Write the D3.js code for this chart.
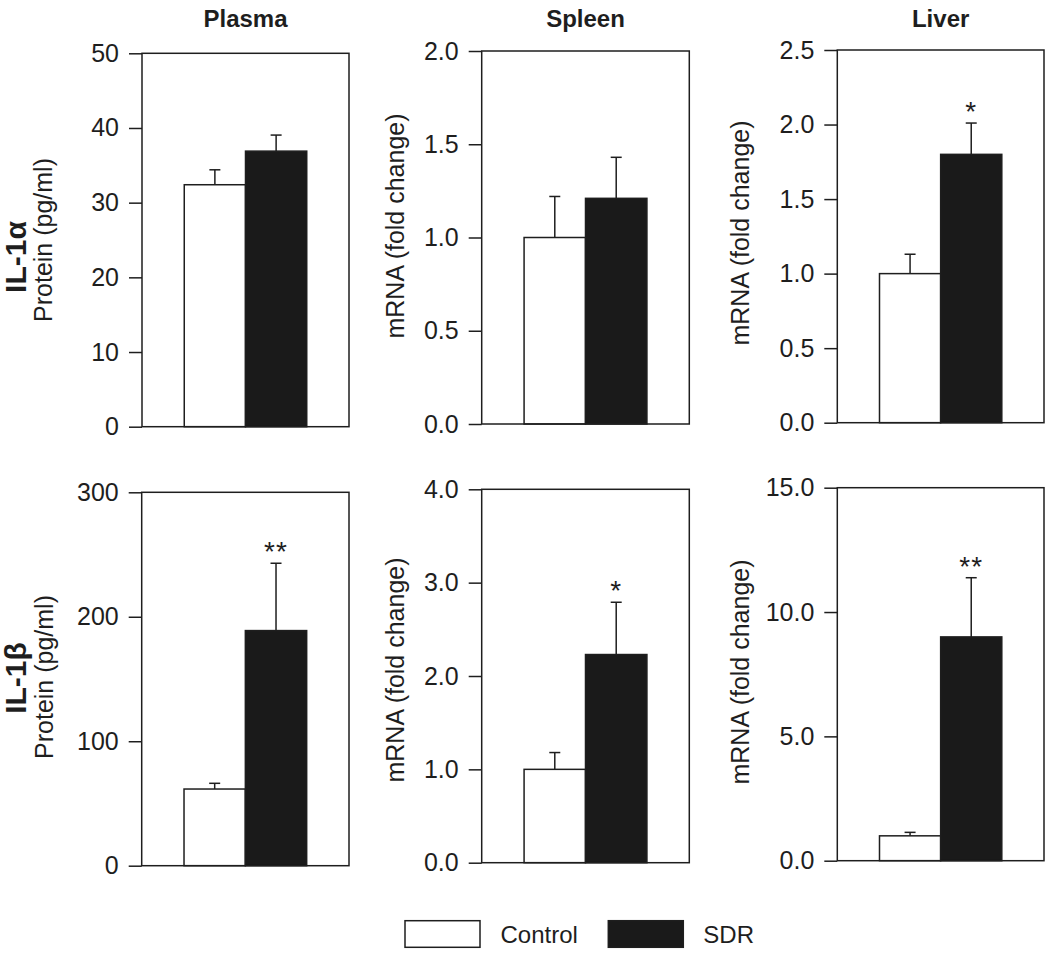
<!DOCTYPE html>
<html>
<head>
<meta charset="utf-8">
<script src="https://cdn.jsdelivr.net/npm/d3@7"></script>
<style>
  html, body { margin: 0; padding: 0; background: #fff; }
  svg { display: block; }
  text { font-family: "Liberation Sans", Arial, Helvetica, sans-serif; fill: #1e1e1e; }
</style>
</head>
<body>
<svg id="chart" width="1050" height="959"></svg>
<script>
// ---------------- DATA ----------------
const tissues = ["Plasma", "Spleen", "Liver"];
const cytokines = ["IL-1α", "IL-1β"];
const groups = ["Control", "SDR"];
// panels in reading order: IL-1α Plasma, Spleen, Liver; IL-1β Plasma, Spleen, Liver
const controlMeans = [32.4, 1.00, 1.00, 61.6, 1.00, 1.00];
const controlErr   = [2.0, 0.22, 0.13, 4.6, 0.18, 0.14];
const sdrMeans     = [36.9, 1.21, 1.80, 188.9, 2.23, 9.0];
const sdrErr       = [2.15, 0.22, 0.21, 54.1, 0.56, 2.38];
const significance = ["", "", "*", "**", "*", "**"];
const yMax = [50, 2.0, 2.5, 300, 4.0, 15.0];
const tickValues = [
  [0, 10, 20, 30, 40, 50],
  [0, 0.5, 1.0, 1.5, 2.0],
  [0, 0.5, 1.0, 1.5, 2.0, 2.5],
  [0, 100, 200, 300],
  [0, 1.0, 2.0, 3.0, 4.0],
  [0, 5.0, 10.0, 15.0]
];
const tickFormats = ["d", ".1f", ".1f", "d", ".1f", ".1f"];
const yLabels = ["Protein (pg/ml)", "mRNA (fold change)", "mRNA (fold change)",
                 "Protein (pg/ml)", "mRNA (fold change)", "mRNA (fold change)"];

// ---------------- LAYOUT ----------------
const layout = [
  { x: 142,   y: 53.3,  w: 207,   h: 373.4, lx: 52,  ly: 240 },
  { x: 481.7, y: 51,    w: 207.6, h: 373,   lx: 404, ly: 226 },
  { x: 837.3, y: 50,    w: 206.7, h: 372.7, lx: 749, ly: 233 },
  { x: 141.7, y: 492.3, w: 207.3, h: 373.4, lx: 53,  ly: 677 },
  { x: 481.7, y: 489.3, w: 207.6, h: 373.4, lx: 404, ly: 670 },
  { x: 837.3, y: 487.7, w: 206.7, h: 373,   lx: 749, ly: 672 }
];
const rowLabelPos = [ { x: 26, y: 257 }, { x: 26, y: 678 } ];
const ink = "#1e1e1e";
const barBlack = "#1a1a1a";
const tickFont = 25;
const labelFont = 25;

const svg = d3.select("#chart");

layout.forEach((L, i) => {
  const g = svg.append("g").attr("transform", `translate(${L.x},${L.y})`);
  const y = d3.scaleLinear().domain([0, yMax[i]]).range([L.h, 0]);
  const x = d3.scaleBand().domain(groups).range([0, L.w]).paddingInner(0).paddingOuter(0.69);

  // axis
  const ax = g.append("g").call(
    d3.axisLeft(y).tickValues(tickValues[i]).tickSize(13).tickPadding(10)
      .tickFormat(d3.format(tickFormats[i]))
  );
  ax.select(".domain").remove();
  ax.selectAll(".tick line").attr("stroke", ink).attr("stroke-width", 1.5);
  ax.selectAll(".tick text").attr("fill", ink)
    .style("font-size", tickFont + "px")
    .style("font-family", '"Liberation Sans", Arial, sans-serif');

  const means = [controlMeans[i], sdrMeans[i]];
  const errs = [controlErr[i], sdrErr[i]];
  const data = groups.map((k, j) => ({ k, m: means[j], e: errs[j] }));

  // error bars (upward only)
  const eb = g.selectAll(".eb").data(data).enter().append("g");
  eb.append("line")
    .attr("x1", d => x(d.k) + x.bandwidth() / 2)
    .attr("x2", d => x(d.k) + x.bandwidth() / 2)
    .attr("y1", d => y(d.m))
    .attr("y2", d => y(d.m + d.e))
    .attr("stroke", ink).attr("stroke-width", 1.5);
  eb.append("line")
    .attr("x1", d => x(d.k) + x.bandwidth() / 2 - 5.5)
    .attr("x2", d => x(d.k) + x.bandwidth() / 2 + 5.5)
    .attr("y1", d => y(d.m + d.e))
    .attr("y2", d => y(d.m + d.e))
    .attr("stroke", ink).attr("stroke-width", 1.5);

  // bars
  g.selectAll(".bar").data(data).enter().append("rect")
    .attr("x", d => x(d.k))
    .attr("y", d => y(d.m))
    .attr("width", x.bandwidth())
    .attr("height", d => y(0) - y(d.m))
    .attr("fill", d => d.k === "Control" ? "#ffffff" : barBlack)
    .attr("stroke", ink).attr("stroke-width", 1.5);

  // frame
  g.append("rect").attr("x", 0).attr("y", 0).attr("width", L.w).attr("height", L.h)
    .attr("fill", "none").attr("stroke", ink).attr("stroke-width", 1.5);

  // significance
  if (significance[i]) {
    const d = data[1];
    g.append("text")
      .attr("x", x(d.k) + x.bandwidth() / 2)
      .attr("y", y(d.m + d.e) - 16 + 14)
      .attr("text-anchor", "middle")
      .style("font-size", "28px")
      .style("letter-spacing", "1px")
      .text(significance[i]);
  }

  // y label
  svg.append("text")
    .attr("transform", `translate(${L.lx},${L.ly}) rotate(-90)`)
    .attr("text-anchor", "middle")
    .style("font-size", labelFont + "px")
    .text(yLabels[i]);

  // column titles
  if (i < 3) {
    svg.append("text")
      .attr("x", L.x + L.w / 2)
      .attr("y", 27)
      .attr("text-anchor", "middle")
      .style("font-size", "24px")
      .style("font-weight", "bold")
      .text(tissues[i]);
  }
});

// row labels
cytokines.forEach((c, r) => {
  svg.append("text")
    .attr("transform", `translate(${rowLabelPos[r].x},${rowLabelPos[r].y}) rotate(-90)`)
    .attr("text-anchor", "middle")
    .style("font-size", "30px")
    .style("font-weight", "bold")
    .text(c);
});

// legend
const legendItems = [
  { k: groups[0], rx: 405, tx: 500.5, fill: "#ffffff" },
  { k: groups[1], rx: 608.3, tx: 703.3, fill: barBlack }
];
legendItems.forEach(it => {
  svg.append("rect").attr("x", it.rx).attr("y", 920.7).attr("width", 75).attr("height", 26.6)
    .attr("fill", it.fill).attr("stroke", ink).attr("stroke-width", 1.5);
  svg.append("text").attr("x", it.tx).attr("y", 943).style("font-size", "24px").text(it.k);
});
</script>
</body>
</html>
